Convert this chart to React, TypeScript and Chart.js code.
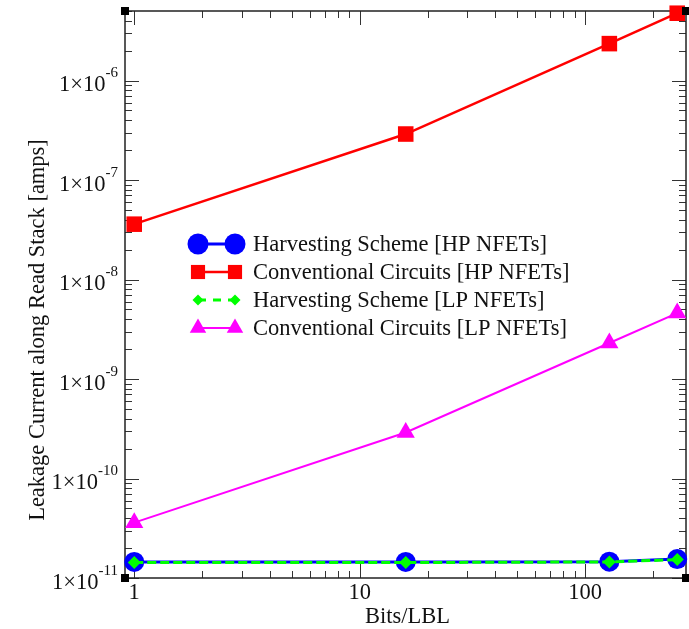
import React, { useEffect, useRef } from 'react';
import { Chart, registerables } from 'chart.js';
Chart.register(...registerables);

const bits = [1, 16, 128, 256];
const harvestHP = [1.45e-11, 1.45e-11, 1.46e-11, 1.55e-11];
const convHP = [3.6e-8, 2.9e-7, 2.35e-6, 4.75e-6];
const harvestLP = [1.43e-11, 1.43e-11, 1.45e-11, 1.53e-11];
const convLP = [3.6e-11, 2.9e-10, 2.3e-9, 4.6e-9];

const seriesLabels = [
  'Harvesting Scheme [HP NFETs]',
  'Conventional Circuits [HP NFETs]',
  'Harvesting Scheme [LP NFETs]',
  'Conventional Circuits [LP NFETs]',
];

const xTickValues = [1, 10, 100];
const xTickLabels = ['1', '10', '100'];
const yTickValues = [1e-11, 1e-10, 1e-9, 1e-8, 1e-7, 1e-6];
const yTickExponents = ['-11', '-10', '-9', '-8', '-7', '-6'];
const minorMultipliers = [2, 3, 4, 5, 6, 7, 8, 9];
const xTitle = 'Bits/LBL';
const yTitle = 'Leakage Current along Read Stack [amps]';

const FONT = '"Liberation Serif", "Times New Roman", serif';

type Style = { color: string; width: number; dash: number[]; shape: string; r: number; lr: number };
const styles: Style[] = [
  { color: '#0000ff', width: 3, dash: [], shape: 'circle', r: 10, lr: 10.5 },
  { color: '#ff0000', width: 2.5, dash: [], shape: 'rect', r: 11, lr: 10 },
  { color: '#00ff00', width: 3, dash: [9, 4], shape: 'rectRot', r: 6.5, lr: 5.5 },
  { color: '#ff00ff', width: 2, dash: [], shape: 'triangle', r: 10.5, lr: 9.5 },
];

function drawMarker(ctx: CanvasRenderingContext2D, shape: string, x: number, y: number, r: number, color: string) {
  ctx.fillStyle = color;
  ctx.beginPath();
  if (shape === 'circle') {
    ctx.arc(x, y, r, 0, Math.PI * 2);
  } else if (shape === 'rect') {
    const s = r * Math.SQRT1_2;
    ctx.rect(x - s, y - s, 2 * s, 2 * s);
  } else if (shape === 'rectRot') {
    ctx.moveTo(x - r, y);
    ctx.lineTo(x, y - r);
    ctx.lineTo(x + r, y);
    ctx.lineTo(x, y + r);
    ctx.closePath();
  } else {
    for (let i = 0; i < 3; i++) {
      const a = (i * 2 * Math.PI) / 3;
      const px = x + Math.sin(a) * r;
      const py = y - Math.cos(a) * r;
      if (i === 0) ctx.moveTo(px, py);
      else ctx.lineTo(px, py);
    }
    ctx.closePath();
  }
  ctx.fill();
}

const framePlugin = {
  id: 'xmgFrame',
  beforeDatasetsDraw(chart: any) {
    const { ctx, chartArea: a, scales } = chart;
    const xs = scales.x;
    const ys = scales.y;
    ctx.save();
    ctx.strokeStyle = '#333';
    ctx.lineWidth = 1;
    const xVals: [number, boolean][] = [];
    xTickValues.forEach((d) => {
      xVals.push([d, true]);
      minorMultipliers.forEach((m) => xVals.push([d * m, false]));
    });
    xVals.forEach(([v, major]) => {
      if (v < xs.min || v > xs.max) return;
      const px = Math.round(xs.getPixelForValue(v)) + 0.5;
      const len = major ? 14 : 7;
      ctx.beginPath();
      ctx.moveTo(px, a.bottom);
      ctx.lineTo(px, a.bottom - len);
      ctx.moveTo(px, a.top);
      ctx.lineTo(px, a.top + len);
      ctx.stroke();
    });
    const yVals: [number, boolean][] = [];
    yTickValues.forEach((d) => {
      yVals.push([d, true]);
      minorMultipliers.forEach((m) => yVals.push([d * m, false]));
    });
    yVals.forEach(([v, major]) => {
      if (v < ys.min * 0.999 || v > ys.max * 1.001) return;
      const py = Math.round(ys.getPixelForValue(v)) + 0.5;
      const len = major ? 14 : 7;
      ctx.beginPath();
      ctx.moveTo(a.left, py);
      ctx.lineTo(a.left + len, py);
      ctx.moveTo(a.right, py);
      ctx.lineTo(a.right - len, py);
      ctx.stroke();
    });
    ctx.lineWidth = 1.5;
    ctx.strokeStyle = '#222';
    ctx.strokeRect(a.left, a.top, a.right - a.left, a.bottom - a.top);
    ctx.restore();
  },
  afterDraw(chart: any) {
    const { ctx, chartArea: a, scales } = chart;
    const xs = scales.x;
    const ys = scales.y;
    ctx.save();
    ctx.fillStyle = '#111';
    const baseFont = `22.5px ${FONT}`;
    const supFont = `15px ${FONT}`;
    yTickValues.forEach((v, i) => {
      const py = ys.getPixelForValue(v);
      ctx.font = supFont;
      const sw = ctx.measureText(yTickExponents[i]).width;
      const right = 118;
      ctx.textAlign = 'left';
      ctx.textBaseline = 'middle';
      ctx.fillText(yTickExponents[i], right - sw, py - 7);
      ctx.font = baseFont;
      ctx.textAlign = 'right';
      ctx.fillText('1\u00d710', right - sw, py + 5);
    });
    ctx.font = baseFont;
    ctx.textAlign = 'center';
    ctx.textBaseline = 'middle';
    xTickValues.forEach((v, i) => {
      const px = xs.getPixelForValue(v);
      ctx.fillText(xTickLabels[i], px, a.bottom + 15);
    });
    ctx.fillText(xTitle, (a.left + a.right) / 2 + 2, 617);
    ctx.save();
    ctx.translate(38, 330);
    ctx.rotate(-Math.PI / 2);
    ctx.fillText(yTitle, 0, 0);
    ctx.restore();
    ctx.fillStyle = '#000';
    [[a.left, a.top], [a.left, a.bottom], [a.right, a.top], [a.right, a.bottom]].forEach(([cx, cy]) => {
      ctx.fillRect(cx - 4, cy - 4, 8, 8);
    });
    const rowYs = [244, 272, 300, 328];
    seriesLabels.forEach((lab, i) => {
      const st = styles[i];
      const y = rowYs[i];
      ctx.strokeStyle = st.color;
      ctx.lineWidth = st.width;
      ctx.setLineDash(i === 2 ? [8, 7] : []);
      ctx.beginPath();
      ctx.moveTo(198, y);
      ctx.lineTo(235, y);
      ctx.stroke();
      ctx.setLineDash([]);
      drawMarker(ctx, st.shape, 198, y, st.lr, st.color);
      drawMarker(ctx, st.shape, 235, y, st.lr, st.color);
      ctx.fillStyle = '#111';
      ctx.font = baseFont;
      ctx.textAlign = 'left';
      ctx.textBaseline = 'middle';
      ctx.fillText(lab, 253, y + 1);
    });
    ctx.restore();
  },
};

export default function App() {
  const ref = useRef<HTMLCanvasElement | null>(null);
  useEffect(() => {
    if (!ref.current) return;
    const series = [harvestHP, convHP, harvestLP, convLP];
    const orders = [4, 3, 1, 2];
    const chart = new Chart(ref.current, {
      type: 'line',
      data: {
        datasets: series.map((vals, i) => ({
          label: seriesLabels[i],
          data: bits.map((b, j) => ({ x: b, y: vals[j] })),
          borderColor: styles[i].color,
          backgroundColor: styles[i].color,
          borderWidth: styles[i].width,
          borderDash: styles[i].dash,
          pointStyle: styles[i].shape as any,
          pointRadius: styles[i].r,
          pointHoverRadius: styles[i].r,
          pointBorderWidth: 0,
          pointBackgroundColor: styles[i].color,
          fill: false,
          tension: 0,
          clip: false as any,
          order: orders[i],
        })),
      },
      options: {
        responsive: false,
        devicePixelRatio: 1,
        animation: false,
        events: [],
        layout: { autoPadding: false, padding: { left: 125, top: 11, right: 3, bottom: 51 } },
        plugins: { legend: { display: false }, tooltip: { enabled: false }, title: { display: false } },
        scales: {
          x: { type: 'logarithmic', min: 0.91, max: 280, display: false },
          y: { type: 'logarithmic', min: 1e-11, max: 5e-6, display: false },
        },
      },
      plugins: [framePlugin],
    });
    return () => chart.destroy();
  }, []);
  return (
    <div style={{ position: 'fixed', left: 0, top: 0, width: 689, height: 629, background: '#fff' }}>
      <canvas ref={ref} width={689} height={629} />
    </div>
  );
}
